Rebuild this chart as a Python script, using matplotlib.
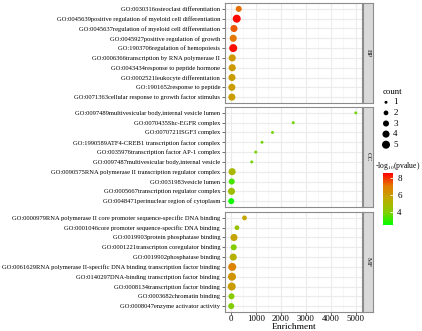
import numpy as np
import matplotlib
matplotlib.use('Agg')
import matplotlib.pyplot as plt
from matplotlib.colors import LinearSegmentedColormap, Normalize
from matplotlib.ticker import MultipleLocator

plt.rcParams['font.family'] = ['Liberation Serif', 'DejaVu Serif']
plt.rcParams['mathtext.fontset'] = 'stix'

# ---- data ----
bp_terms = ['GO:0030316osteoclast differentiation',
            'GO:0045639positive regulation of myeloid cell differentiation',
            'GO:0045637regulation of myeloid cell differentiation',
            'GO:0045927positive regulation of growth',
            'GO:1903706regulation of hemopoiesis',
            'GO:0006366transcription by RNA polymerase II',
            'GO:0043434response to peptide hormone',
            'GO:0002521leukocyte differentiation',
            'GO:1901652response to peptide',
            'GO:0071363cellular response to growth factor stimulus']
bp_enrich = [320, 240, 130, 100, 100, 60, 60, 50, 45, 45]
bp_count = [3, 5, 4, 4, 5, 4, 4, 4, 4, 4]
bp_logp = [7.2, 8.5, 7.5, 7.1, 8.4, 6.1, 6.1, 6.0, 6.0, 6.0]

cc_terms = ['GO:0097489multivesicular body,internal vesicle lumen',
            'GO:0070435Shc-EGFR complex',
            'GO:0070721ISGF3 complex',
            'GO:1990589ATF4-CREB1 transcription factor complex',
            'GO:0035976transcription factor AP-1 complex',
            'GO:0097487multivesicular body,internal vesicle',
            'GO:0090575RNA polymerase II transcription regulator complex',
            'GO:0031983vesicle lumen',
            'GO:0005667transcription regulator complex',
            'GO:0048471perinuclear region of cytoplasm']
cc_enrich = [5000, 2500, 1670, 1250, 1000, 840, 55, 40, 30, 20]
cc_count = [1, 1, 1, 1, 1, 1, 4, 3, 4, 3]
cc_logp = [3.8, 3.8, 3.8, 3.8, 3.8, 3.8, 5.0, 3.3, 4.7, 2.7]

mf_terms = ['GO:0000979RNA polymerase II core promoter sequence-specific DNA binding',
            'GO:0001046core promoter sequence-specific DNA binding',
            'GO:0019903protein phosphatase binding',
            'GO:0001221transcripton coregulator binding',
            'GO:0019902phosphatase binding',
            'GO:0061629RNA polymerase II-specific DNA binding transcription factor binding',
            'GO:0140297DNA-binding transcription factor binding',
            'GO:0008134transcription factor binding',
            'GO:0003682chromatin binding',
            'GO:0008047enzyme activator activity']
mf_enrich = [550, 250, 130, 120, 100, 60, 50, 40, 30, 20]
mf_count = [2, 2, 4, 3, 4, 5, 5, 5, 3, 3]
mf_logp = [5.7, 4.5, 5.8, 4.0, 5.3, 6.8, 6.3, 6.0, 4.1, 4.0]

panels = ['BP', 'CC', 'MF']
legend_counts = [1, 2, 3, 4, 5]
cbar_ticks = [4, 6, 8]

W, H = 422, 331
fig = plt.figure(figsize=(W / 100, H / 100), dpi=100)


def px_axes(x0, y0, x1, y1):
    return fig.add_axes([x0 / W, 1 - y1 / H, (x1 - x0) / W, (y1 - y0) / H])


def size_of(c):
    return 4.5 + (np.asarray(c) - 1) * 7.2


cmap = LinearSegmentedColormap.from_list(
    'gr', ['#00FF00', '#86CC00', '#BFAB00', '#E27A00', '#FF0000'])
norm = Normalize(vmin=2.5, vmax=8.6)

all_enrich = bp_enrich + cc_enrich + mf_enrich
span = max(all_enrich) - min(all_enrich)
xlim = (min(all_enrich) - 0.05 * span, max(all_enrich) + 0.05 * span)

data = [(bp_terms, bp_enrich, bp_count, bp_logp),
        (cc_terms, cc_enrich, cc_count, cc_logp),
        (mf_terms, mf_enrich, mf_count, mf_logp)]
rows = [(3, 103), (107, 207), (212, 312)]

for i, (name, (terms, enrich, count, logp), (y0, y1)) in enumerate(zip(panels, data, rows)):
    ax = px_axes(225, y0, 362, y1)
    y = np.arange(len(terms))[::-1]
    ax.set_axisbelow(True)
    ax.grid(True, which='major', color='#EBEBEB', lw=0.8)
    ax.grid(True, which='minor', axis='x', color='#F4F4F4', lw=0.5)
    ax.scatter(enrich, y, s=size_of(count), c=logp, cmap=cmap, norm=norm,
               edgecolors='none', zorder=3)
    ax.set_xlim(*xlim)
    ax.set_ylim(-0.6, len(terms) - 0.4)
    ax.set_yticks(y)
    ax.set_yticklabels(terms, fontsize=4.7)
    ax.xaxis.set_major_locator(MultipleLocator(1000))
    ax.xaxis.set_minor_locator(MultipleLocator(500))
    ax.tick_params(axis='both', which='major', length=2, width=0.5, color='#333333', pad=1.5)
    ax.tick_params(axis='x', which='minor', length=0)
    for s in ax.spines.values():
        s.set_color('#8C8C8C')
        s.set_linewidth(0.8)
    if i < 2:
        ax.tick_params(axis='x', labelbottom=False, length=0)
    else:
        ax.tick_params(axis='x', labelsize=6.3, pad=0.5)
        ax.set_xlabel('Enrichment', fontsize=6.8, labelpad=0)

    sax = px_axes(363, y0, 373, y1)
    sax.set_facecolor('#D9D9D9')
    sax.set_xticks([])
    sax.set_yticks([])
    for s in sax.spines.values():
        s.set_color('#8C8C8C')
        s.set_linewidth(0.8)
    sax.text(0.5, 0.5, name, rotation=270, ha='center', va='center',
             fontsize=5, color='#1A1A1A', transform=sax.transAxes)

# size legend
lax = px_axes(378, 97, 410, 150)
lax.scatter([0] * len(legend_counts), legend_counts, s=size_of(legend_counts),
            c='black', edgecolors='none')
lax.set_xlim(-1, 3)
lax.set_ylim(5.5, 0.5)
for c in legend_counts:
    lax.text(0.9, c, str(c), fontsize=6.5, va='center', ha='left')
lax.axis('off')
fig.text(383 / W, 1 - 92 / H, 'count', fontsize=6.3, va='center', ha='left')

# colour bar
cax = px_axes(383, 173, 393, 225)
cb = fig.colorbar(plt.cm.ScalarMappable(norm=norm, cmap=cmap), cax=cax, ticks=cbar_ticks)
cb.outline.set_visible(False)
cax.tick_params(labelsize=6.5, length=2.5, color='white', direction='in', width=0.6, pad=3)
fig.text(420 / W, 1 - 166 / H, '-log$_{10}$(pvalue)', fontsize=5.5, va='center', ha='right')

fig.savefig('out.png', dpi=100)
